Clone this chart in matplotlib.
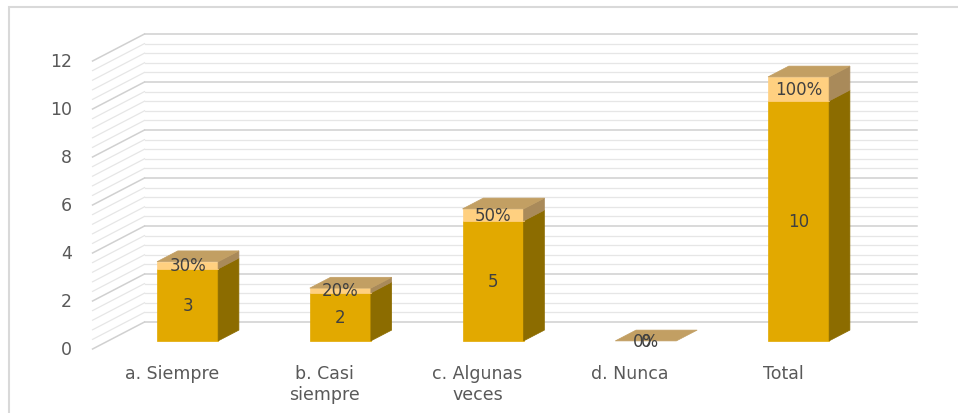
import matplotlib.pyplot as plt
from matplotlib.patches import Polygon, Rectangle

categories = ['a. Siempre', 'b. Casi\nsiempre', 'c. Algunas\nveces', 'd. Nunca', 'Total']
counts = [3, 2, 5, 0, 10]
shares = [0.3, 0.2, 0.5, 0.0, 1.0]
yticks = [0, 2, 4, 6, 8, 10, 12]

# oblique projection: depth z in [0, 1] shifts points right and up
DX, DY = 0.34, 1.125
Z0, Z1 = 0.3, 0.7
HALF = 0.2
XMIN, XMAX = -0.52, 4.54

def P(x, y, z):
    return (x + z * DX, y + z * DY)

fig = plt.figure(figsize=(9.58, 4.14), dpi=100)
ax = fig.add_axes([0, 0, 1, 1])
ax.set_xlim(-172 / 152.75, (958 - 172) / 152.75)
ax.set_ylim(-64 / 24, 350 / 24)
ax.axis('off')

fig.patches.append(Rectangle((9 / 958, -0.1), 1.2, 1 - 8 / 414 + 0.1, transform=fig.transFigure,
                             fill=False, ec='#d9d9d9', lw=1.5))

# walls: back wall and left wall gridlines every 0.4
n = 31
for k in range(n):
    v = k * 0.4
    major = k % 5 == 0
    c = '#d0d0d0' if major else '#e6e6e6'
    lw = 1.1 if major else 0.9
    a, b = P(XMIN, v, 0), P(XMIN, v, 1)
    ax.plot([a[0], b[0]], [a[1], b[1]], color=c, lw=lw, zorder=1)
    b2 = P(XMAX, v, 1)
    ax.plot([b[0], b2[0]], [b[1], b2[1]], color=c, lw=lw, zorder=1)

for t in yticks:
    ax.text(-0.655, t, str(t), ha='right', va='center', fontsize=12.5, color='#595959')

FRONT = '#e2a900'
SIDE = '#8c6c00'
PFRONT = '#ffd080'
PSIDE = '#a98a5a'
PTOP = '#c29f63'

def face(pts, color):
    ax.add_patch(Polygon(pts, closed=True, fc=color, ec=color, lw=0.5, zorder=3))

for i, (cat, v, p) in enumerate(zip(categories, counts, shares)):
    x0, x1 = i - HALF, i + HALF
    top = v + p
    if v > 0:
        face([P(x0, 0, Z0), P(x1, 0, Z0), P(x1, v, Z0), P(x0, v, Z0)], FRONT)
        face([P(x1, 0, Z0), P(x1, 0, Z1), P(x1, v, Z1), P(x1, v, Z0)], SIDE)
    if p > 0:
        face([P(x0, v, Z0), P(x1, v, Z0), P(x1, top, Z0), P(x0, top, Z0)], PFRONT)
        face([P(x1, v, Z0), P(x1, v, Z1), P(x1, top, Z1), P(x1, top, Z0)], PSIDE)
    face([P(x0, top, Z0), P(x1, top, Z0), P(x1, top, Z1), P(x0, top, Z1)], PTOP)

    cx, cy = P(i, v / 2, Z0)
    ax.text(cx, cy, str(v), ha='center', va='center', fontsize=12, color='#404040', zorder=5)
    px, py = P(i, v + p / 2, Z0)
    ax.text(px, py, f'{p:.0%}', ha='center', va='center', fontsize=12, color='#404040', zorder=5)

    ax.text(i, -0.62, cat, ha='center', va='top', fontsize=12.5, color='#595959', linespacing=1.25)

fig.savefig('out.png', dpi=100)
